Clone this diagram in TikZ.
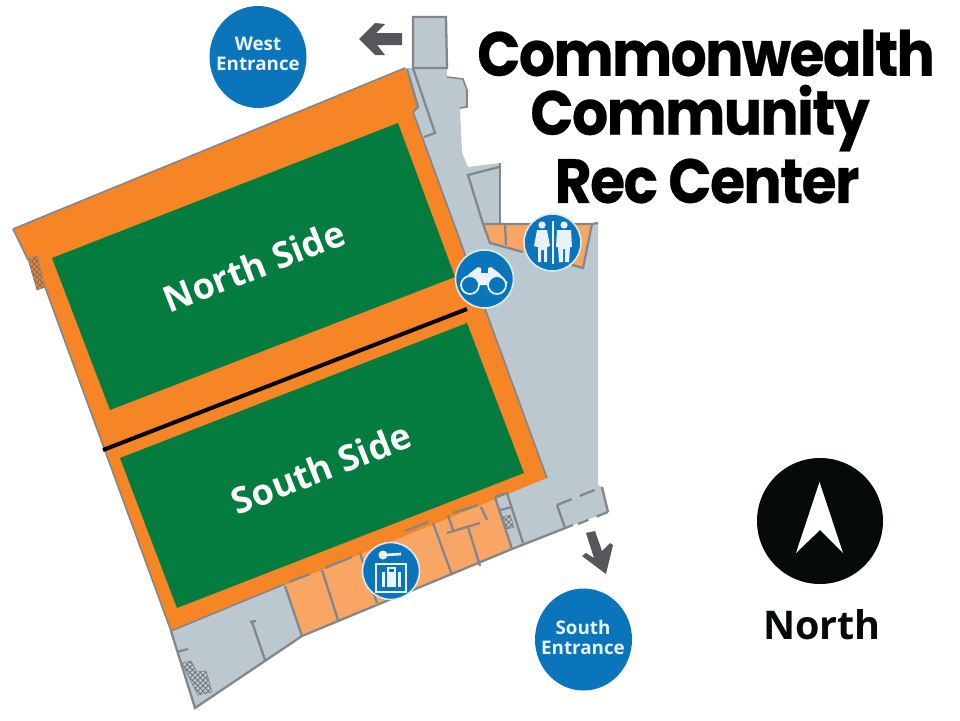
\documentclass[tikz,border=0pt]{standalone}
\usepackage{fontspec}
\setmainfont{Open Sans}
\newfontfamily\titlefont{Poppins}[FakeStretch=0.91,LetterSpace=-2.5,BoldFeatures={FakeBold=0.4}]
\usetikzlibrary{patterns}

\definecolor{roomorange}{HTML}{F58525}
\definecolor{lightorange}{HTML}{F9A665}
\definecolor{fieldgreen}{HTML}{047C40}
\definecolor{floorgray}{HTML}{BCC8CF}
\definecolor{wallgray}{HTML}{83878B}
\definecolor{signblue}{HTML}{0A75BB}
\definecolor{arrowgray}{HTML}{55575A}
\definecolor{northblack}{HTML}{060A08}
\definecolor{signwhite}{HTML}{E8F2F8}

\tikzset{
  wall/.style={draw=wallgray,line width=1.3pt},
  thinwall/.style={draw=wallgray,line width=0.9pt},
  stairs/.style={pattern=crosshatch,pattern color=wallgray!80!black,draw=wallgray,line width=0.4pt},
  sign/.style={fill=signblue,draw=white!85!signblue,line width=0.9pt},
  gosign/.style={fill=signblue},
  entrance/.style={text=signwhite,font=\fontsize{10.7}{11.4}\selectfont\bfseries,align=center},
  title/.style={font=\fontsize{35.5}{40}\titlefont\bfseries,text=black},
  side/.style={text=white,font=\fontsize{20.5}{24}\selectfont\bfseries,rotate=21.5},
  signline/.style={draw=signwhite,line width=1pt}
}

\begin{document}
\begin{tikzpicture}[x=0.02cm,y=-0.02cm]
  \useasboundingbox (0,0) rectangle (960,720);

  % Floor
  \fill[floorgray] (413,17) -- (446,17) -- (447,77) -- (463,79) -- (467,90) -- (467,107) -- (460,108)
     -- (462,153) -- (468,167) -- (500,163) -- (500,223) -- (598,223) -- (598,485) -- (602,487)
     -- (608,512) -- (573,525) -- (512,549) -- (302,636) -- (195,708) -- (171,630) -- (405,68) -- (413,68) -- cycle;

  % Rooms south
  \fill[lightorange] (285,584) -- (495,497) -- (512,549) -- (302,636) -- cycle;
  % Rooms at the restroom
  \fill[lightorange] (483,224) -- (490,243) -- (523,252) -- (583,268) -- (592,224) -- cycle;

  % Hall
  \fill[roomorange] (13,229) -- (405,68) -- (418,107) -- (413,112) -- (547,478) -- (171,631) -- (45,287) -- (37,290) -- (28,260) -- cycle;
  \draw[thinwall] (171,631) -- (45,287);                 % West wall low
  \draw[thinwall] (13,229) -- (28,260);                  % West wall high
  \draw[thinwall] (13,229) -- (405,68);                  % North wall
  \draw[thinwall] (413,112) -- (547,478);                % East wall

  % Stairs
  \draw[stairs] (28,259) -- (37,256) -- (45,287) -- (37,290) -- cycle;
  \draw[stairs] (182,663) -- (191,661) -- (197,672) -- (206,671) -- (212,692) -- (198,695) -- cycle;
  \draw[stairs] (503,517) -- (510,515) -- (514,527) -- (507,529) -- cycle;

  % Fields
  \fill[fieldgreen] (52,258) -- (398,123) -- (455,277) -- (110,410) -- cycle;
  \fill[fieldgreen] (120,458) -- (467,323) -- (524,473) -- (177,608) -- cycle;
  \draw[line width=2.3pt,black] (103,450) -- (467,309);  % Divider
  \node[side] (northside) at (254,266) {North Side};
  \node[side] (southside) at (321,468) {South Side};

  % Walls top
  \draw[wall] (413,68) -- (413,17) -- (446,17) -- (447,68) -- cycle;
  \draw[wall] (413,68) -- (435,133) -- (424,137);
  \draw[wall] (407,69) -- (418,107) -- (413,112);
  \draw[thinwall] (447,77) -- (463,79) -- (467,90) -- (467,107) -- (460,108);
  \draw[wall] (499,167) -- (468,175) -- (483,224);
  \draw[wall] (500,163) -- (500,223);
  \draw[wall] (483,224) -- (592,224) -- (598,223);
  \draw[wall] (483,224) -- (490,243) -- (523,252);
  \draw[wall] (592,224) -- (583,268) -- (572,265);
  \draw[wall] (505,224) -- (506,245);

  % Walls south
  \draw[wall] (171,631) -- (195,708) -- (302,636) -- (512,549) -- (573,525);
  \draw[thinwall] (171,631) -- (285,584);
  \draw[wall] (285,586) -- (302,636);
  \draw[wall] (322,570) -- (338,620);
  \draw[wall] (360,553) -- (377,603);
  \draw[wall] (433,523) -- (452,575);
  \draw[wall] (468,527) -- (480,566);
  \draw[wall] (447,533) -- (480,523);
  \draw[wall] (448,515) -- (453,530);
  \draw[wall] (453,513) -- (478,505);
  \draw[wall] (481,507) -- (487,520);
  \draw[wall] (289,582) -- (310,574);
  \draw[wall] (325,568) -- (352,557);
  \draw[wall] (405,531) -- (428,522);
  \draw[wall] (495,497) -- (512,549);
  \draw[wall] (495,497) -- (507,493) -- (523,543);
  \draw[wall] (500,510) -- (512,507);
  \draw[wall] (252,622) -- (265,660);
  \draw[wall] (250,622) -- (256,621);
  \draw[wall] (177,652) -- (188,649);

  % Door south
  \draw[wall] (565,528) -- (557,505);
  \draw[wall,dash pattern=on 9pt off 5pt] (557,505) -- (602,487);
  \draw[wall] (602,487) -- (608,512);
  \draw[wall,dash pattern=on 7pt off 5pt] (608,512) -- (578,524);

  % Arrows
  \fill[arrowgray] (359,39) -- (375,23) -- (385,24) -- (376,33) -- (402,33) -- (402,45) -- (377,45) -- (385,55) -- (375,55) -- cycle;
  \fill[arrowgray] (586,533) -- (595,531) -- (602,551) -- (610,543) -- (613,545) -- (606,574) -- (582,556) -- (586,553) -- (594,558) -- cycle;

  % Entrances
  \fill[gosign] (258,57) ellipse [x radius=48.5,y radius=51];
  \node[entrance] (westentrance) at (258,54) {West\\Entrance};
  \fill[gosign] (583.5,639.5) ellipse [x radius=48.5,y radius=51];
  \node[entrance] (southentrance) at (583,637) {South\\Entrance};

  % Binoculars
  \draw[sign] (484.5,279) circle [radius=29];
  \fill[signwhite] (461,283) -- (470,273) -- (478,267) -- (481,268) -- (481,273) -- (488,273) -- (488,268) -- (491,267)
     -- (499,273) -- (508,283) -- (497,285) -- (470,285) -- cycle;
  \draw[signline,fill=signblue] (470,285) circle [radius=9];
  \draw[signline,fill=signblue] (497,285) circle [radius=9];
  \fill[signwhite] (481,280) rectangle (486,285);

  % Restrooms
  \draw[sign] (552.5,242.5) circle [radius=28.5];
  \draw[signline] (553,221) -- (553,264);
  \fill[signwhite] (542,225) circle [radius=3.6];
  \fill[signwhite] (537,230) -- (547,230) -- (550,246) -- (547,247) -- (547,262) -- (544,262) -- (544,250) -- (541,250)
     -- (541,262) -- (538,262) -- (538,247) -- (534,246) -- cycle;
  \fill[signwhite] (564,225) circle [radius=3.6];
  \fill[signwhite] (557,230) -- (571,230) -- (572,247) -- (570,247) -- (569,262) -- (565,262) -- (565,249) -- (563,249)
     -- (563,262) -- (559,262) -- (558,247) -- (556,247) -- cycle;

  % Luggage and key
  \draw[sign] (391,571) circle [radius=28.5];
  \fill[signwhite] (383,555) circle [radius=4.5];
  \draw[signline,line width=1.5pt] (385,555) -- (401,554);
  \draw[signline,line width=1.2pt] (376,564) rectangle (406,592);
  \fill[signwhite] (382,572) rectangle (401,587);
  \draw[signblue,line width=0.6pt] (386,572) -- (386,587);
  \draw[signblue,line width=0.6pt] (397,572) -- (397,587);
  \draw[signwhite,line width=0.8pt] (388,572) -- (388,568) -- (395,568) -- (395,572);

  % North
  \fill[northblack] (820,521) circle [radius=63];
  \fill[white] (819.5,482) -- (843,553) -- (820,530) -- (796,553) -- cycle;
  \node[font=\fontsize{22.5}{26}\selectfont\bfseries,text=northblack] (northlabel) at (822,625) {North};

  % Title
  \node[title] (titlea) at (706,53) {Commonwealth};
  \node[title] (titleb) at (700,118) {Community};
  \node[title] (titlec) at (707,181) {Rec Center};
\end{tikzpicture}
\end{document}
